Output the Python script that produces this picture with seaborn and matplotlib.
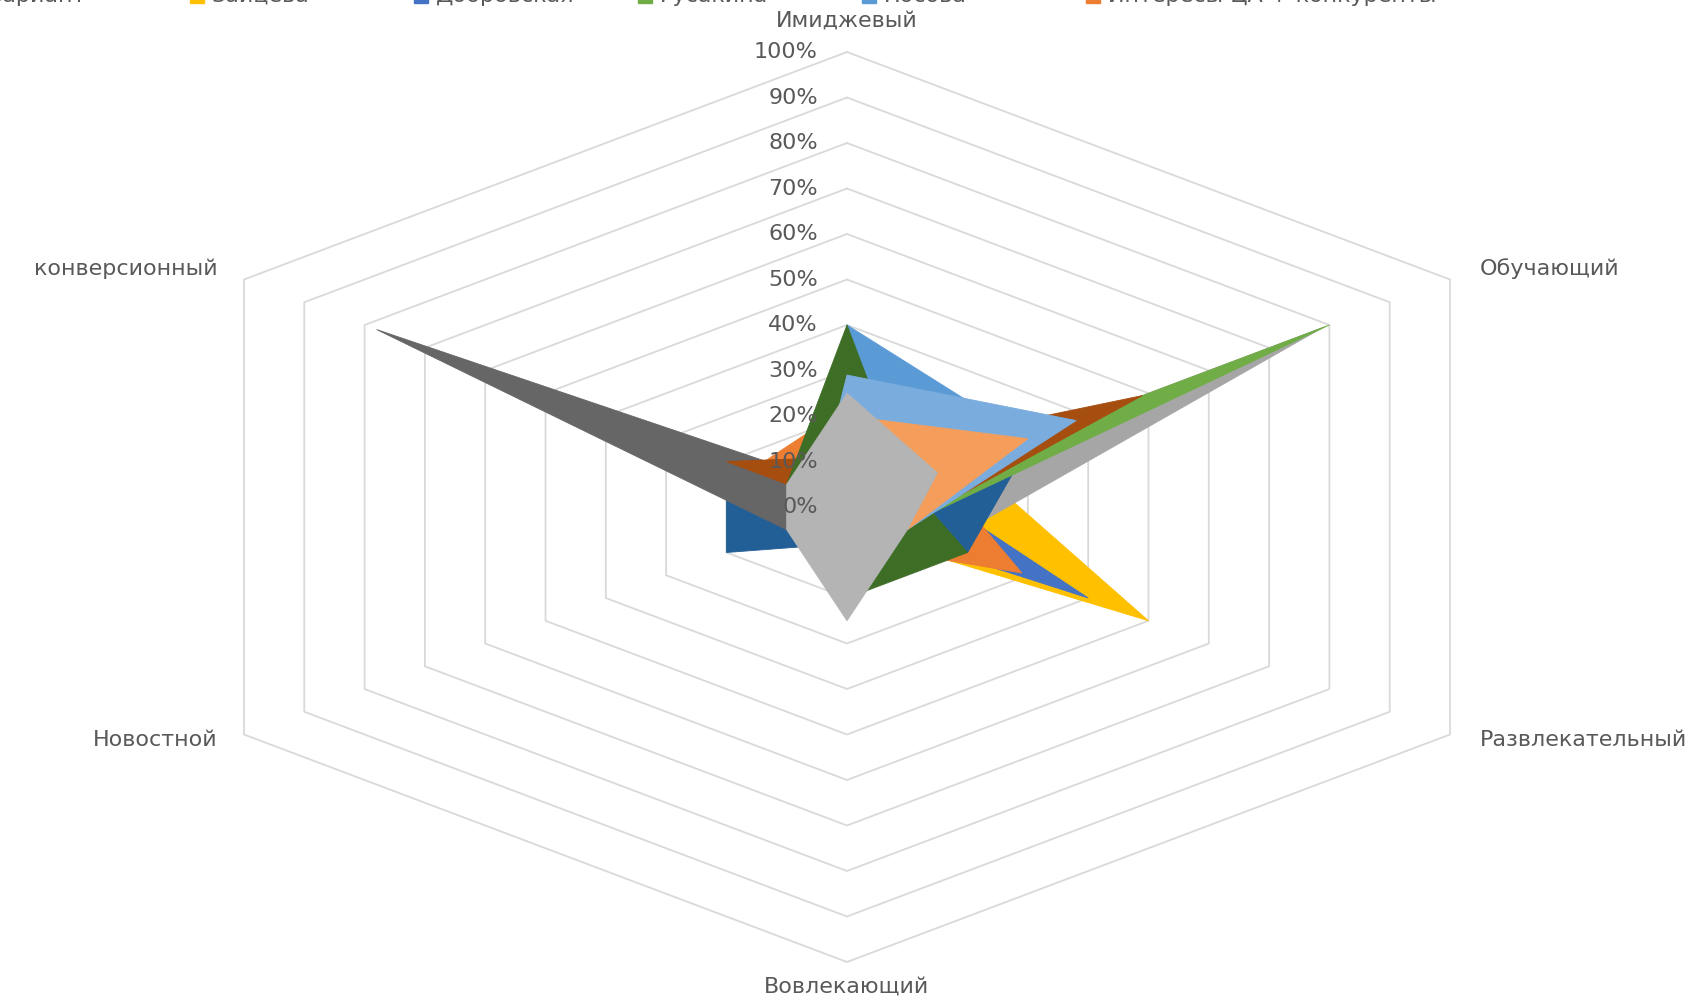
import numpy as np
import pandas as pd
import seaborn as sns
import matplotlib.pyplot as plt
from matplotlib.patches import Rectangle

# categories (clockwise from the top)
categories = ["Имиджевый", "Обучающий", "Развлекательный", "Вовлекающий", "Новостной", "конверсионный"]
ring_ticks = [0.0, 0.1, 0.2, 0.3, 0.4, 0.5, 0.6, 0.7, 0.8, 0.9, 1.0]
ring_labels = ["0%", "10%", "20%", "30%", "40%", "50%", "60%", "70%", "80%", "90%", "100%"]

# series values, same order as categories; listed in drawing order (bottom -> top)
zaytseva    = [0.05, 0.20, 0.50, 0.05, 0.05, 0.05]
dobrovskaya = [0.05, 0.11, 0.40, 0.03, 0.05, 0.05]
interesy    = [0.22, 0.15, 0.29, 0.08, 0.05, 0.16]
seria_gray  = [0.00, 0.79, 0.16, 0.05, 0.05, 0.05]
nosova      = [0.40, 0.30, 0.10, 0.05, 0.05, 0.05]
seria_navy  = [0.10, 0.31, 0.20, 0.08, 0.20, 0.20]
rusakina    = [0.00, 0.80, 0.09, 0.03, 0.03, 0.03]
seria_dgray = [0.04, 0.05, 0.05, 0.05, 0.10, 0.78]
seria_brown = [0.11, 0.49, 0.09, 0.03, 0.00, 0.20]
seria_dgrn  = [0.40, 0.10, 0.20, 0.20, 0.05, 0.10]
seria_lblue = [0.29, 0.38, 0.10, 0.05, 0.05, 0.05]
seria_lorng = [0.20, 0.30, 0.10, 0.05, 0.05, 0.05]
seria_lgray = [0.25, 0.15, 0.10, 0.25, 0.10, 0.10]

series_names = ["Зайцева", "Добровская", "Интересы ЦА + конкуренты", "Серия 4", "Носова",
                "Серия 6", "Русакина", "Серия 8", "Серия 9", "Серия 10", "Серия 11",
                "Серия 12", "Серия 13"]
series_values = [zaytseva, dobrovskaya, interesy, seria_gray, nosova, seria_navy, rusakina,
                 seria_dgray, seria_brown, seria_dgrn, seria_lblue, seria_lorng, seria_lgray]
series_colors = ["#FFC000", "#4472C4", "#ED7D31", "#A6A6A6", "#5B9BD5", "#235F97", "#70AD47",
                 "#666666", "#A64D10", "#3E6E26", "#7AADDE", "#F59E5B", "#B4B4B4"]

# last legend row (the rest is cut off at the top of the picture)
legend_row = ["Вариант", "Зайцева", "Добровская", "Русакина", "Носова", "Интересы ЦА + конкуренты"]
legend_colors = ["#A5A5A5", "#FFC000", "#4472C4", "#70AD47", "#5B9BD5", "#ED7D31"]

sns.set_theme(style="white")
plt.rcParams["font.family"] = ["DejaVu Sans"]
text_color = "#595959"
grid_color = "#D9D9D9"
fsize = 16

angles = np.deg2rad(90 - 60 * np.arange(len(categories)))
ca, sa = np.cos(angles), np.sin(angles)

rows = []
for name, vals in zip(series_names, series_values):
    for cat, v, c, s in zip(categories, vals, ca, sa):
        rows.append({"series": name, "category": cat, "value": v, "x": v * c, "y": v * s})
df = pd.DataFrame(rows)

fig = plt.figure(figsize=(17.06, 9.99), dpi=100)
ax = fig.add_axes([0, 0, 1, 1])
# the Excel chart is stretched horizontally, so the axes keep a free aspect
ax.set_xlim(-847 / 696.3, 859 / 696.3)
ax.set_ylim(-492 / 455, 507 / 455)
ax.axis("off")

# hexagon rings
for r in ring_ticks[1:]:
    ax.plot(np.append(r * ca, r * ca[0]), np.append(r * sa, r * sa[0]),
            color=grid_color, lw=1.3, zorder=1)

# filled series
for i, (name, color) in enumerate(zip(series_names, series_colors)):
    d = df[df["series"] == name]
    ax.fill(d["x"], d["y"], color=color, lw=0.6, ec=color, zorder=2 + i)

# value labels
for r, lab in zip(ring_ticks, ring_labels):
    ax.text(-0.042, r, lab, ha="right", va="center", fontsize=fsize,
            color=text_color, zorder=30)

# category labels
cat_pos = [(0.0, 1.07, "center"), (0.909, 0.524, "left"), (0.909, -0.512, "left"),
           (0.0, -1.055, "center"), (-0.904, -0.512, "right"), (-0.904, 0.524, "right")]
for cat, (x, y, ha) in zip(categories, cat_pos):
    ax.text(x, y, cat, ha=ha, va="center", fontsize=fsize, color=text_color)

# legend row, mostly above the visible area
for i, (lab, col) in enumerate(zip(legend_row, legend_colors)):
    x0 = (-34 + 224 * i) / 1706
    fig.add_artist(Rectangle((x0, 1 - 3 / 999), 14 / 1706, 14 / 999,
                             transform=fig.transFigure, color=col))
    fig.text(x0 + 22 / 1706, 1 - 2 / 999, lab, ha="left", va="baseline",
             fontsize=fsize, color=text_color)

fig.savefig("out.png", dpi=100)
